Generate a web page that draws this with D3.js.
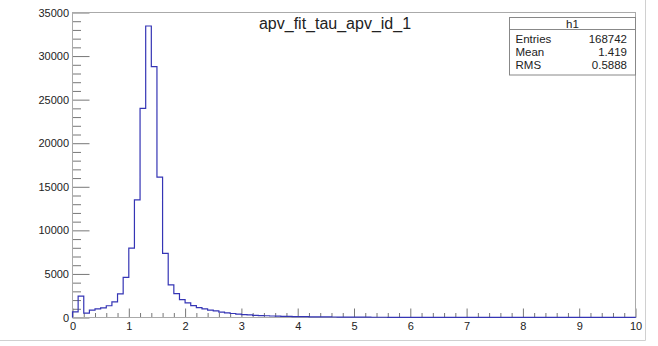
<!DOCTYPE html>
<html>
<head>
<meta charset="utf-8">
<script src="https://cdn.jsdelivr.net/npm/d3@7"></script>
<style>
  html, body { margin: 0; padding: 0; background: #fff; }
  svg { display: block; font-family: "Liberation Sans", Arial, sans-serif; }
</style>
</head>
<body>
<svg id="chart" width="658" height="346"></svg>
<script>
// ---- data ----
const title = "apv_fit_tau_apv_id_1";
const xMin = 0, xMax = 10, binWidth = 0.1;
const counts = [
  650, 2450, 500, 850, 1000, 1100, 1350, 1800, 2700, 4600,
  7950, 13500, 24000, 33450, 28800, 16100, 7350, 3750, 2750, 2050,
  1680, 1370, 1140, 980, 840, 750, 620, 530, 460, 390,
  330, 290, 250, 220, 200, 175, 155, 140, 125, 110,
  100, 90, 82, 75, 68, 62, 56, 51, 47, 43,
  40, 37, 34, 31, 29, 27, 25, 23, 22, 20,
  19, 18, 17, 16, 15, 14, 14, 13, 12, 12,
  11, 11, 10, 10, 9, 9, 8, 8, 8, 7,
  7, 7, 6, 6, 6, 6, 5, 5, 5, 5,
  5, 4, 4, 4, 4, 4, 4, 3, 3, 3
];
const xTicks = [0, 1, 2, 3, 4, 5, 6, 7, 8, 9, 10];
const yTicks = [0, 5000, 10000, 15000, 20000, 25000, 30000, 35000];
const statsName = "h1";
const statsLabels = ["Entries", "Mean", "RMS"];
const statsValues = ["168742", "1.419", "0.5888"];

// ---- layout ----
const svg = d3.select("#chart");
const pLeft = 72.5, pRight = 635.5, pTop = 12.5, pBottom = 317.5;
const x = d3.scaleLinear().domain([xMin, xMax]).range([pLeft, pRight]);
const y = d3.scaleLinear().domain([0, 35000]).range([pBottom, pTop]);

const tickColor = "#777";
const frameColor = "#aaa";
const textColor = "#222";

// outer canvas border
svg.append("line").attr("x1", 645.5).attr("x2", 645.5).attr("y1", 0).attr("y2", 340.5)
  .attr("stroke", "#d0d0d0");
svg.append("line").attr("x1", 0).attr("x2", 645.5).attr("y1", 340.5).attr("y2", 340.5)
  .attr("stroke", "#d0d0d0");

// histogram step path
const pts = [[xMin, 0]];
counts.forEach((c, i) => {
  const x0 = xMin + i * binWidth, x1 = xMin + (i + 1) * binWidth;
  pts.push([x0, c]); pts.push([x1, c]);
});
pts.push([xMax, 0]);
const line = d3.line().x(d => x(d[0])).y(d => y(d[1]));

// minor ticks
const xMinor = d3.range(0, 50).map(i => i * 0.2).filter(v => Math.abs(v - Math.round(v)) > 1e-6);
const yMinor = d3.range(0, 36).map(i => i * 1000).filter(v => v % 5000 !== 0);

const gxMinor = svg.append("g").attr("transform", `translate(0,${pBottom})`)
  .call(d3.axisBottom(x).tickValues(xMinor).tickSize(-4.5).tickFormat(""));
const gx = svg.append("g").attr("transform", `translate(0,${pBottom})`)
  .call(d3.axisBottom(x).tickValues(xTicks).tickSize(-9).tickPadding(5).tickFormat(d3.format("d")));
const gyMinor = svg.append("g").attr("transform", `translate(${pLeft},0)`)
  .call(d3.axisLeft(y).tickValues(yMinor).tickSize(-8.5).tickFormat(""));
const gy = svg.append("g").attr("transform", `translate(${pLeft},0)`)
  .call(d3.axisLeft(y).tickValues(yTicks).tickSize(-17).tickPadding(3.5).tickFormat(d3.format("d")));

[gxMinor, gx, gyMinor, gy].forEach(g => {
  g.select(".domain").remove();
  g.selectAll(".tick line").attr("stroke", tickColor);
  g.selectAll("text").attr("fill", textColor).style("font-size", "11px")
    .style("font-family", "'Liberation Sans', Arial, sans-serif");
});

// frame
svg.append("rect").attr("x", pLeft).attr("y", pTop)
  .attr("width", pRight - pLeft).attr("height", pBottom - pTop)
  .attr("fill", "none").attr("stroke", frameColor);

// histogram
svg.append("path").attr("d", line(pts)).attr("fill", "none")
  .attr("stroke", "#3535b5").attr("stroke-width", 1.2);

// title
svg.append("text").attr("x", 335).attr("y", 28.5).attr("text-anchor", "middle")
  .attr("fill", textColor).style("font-size", "16px").text(title);

// stats box
const bx = 509.5, by = 17.5, bw = 126, bh = 57.5;
svg.append("rect").attr("x", bx).attr("y", by).attr("width", bw).attr("height", bh)
  .attr("fill", "#fff").attr("stroke", "#888");
svg.append("line").attr("x1", bx).attr("x2", bx + bw).attr("y1", 29.5).attr("y2", 29.5)
  .attr("stroke", "#888");
svg.append("text").attr("x", bx + bw / 2).attr("y", 27.5).attr("text-anchor", "middle")
  .attr("fill", textColor).style("font-size", "11.5px").text(statsName);
const rowY = [43, 56, 68.5];
statsLabels.forEach((lab, i) => {
  svg.append("text").attr("x", 515.5).attr("y", rowY[i]).attr("fill", textColor)
    .style("font-size", "11.5px").text(lab);
  svg.append("text").attr("x", 627).attr("y", rowY[i]).attr("text-anchor", "end")
    .attr("fill", textColor).style("font-size", "11.5px").text(statsValues[i]);
});
</script>
</body>
</html>
